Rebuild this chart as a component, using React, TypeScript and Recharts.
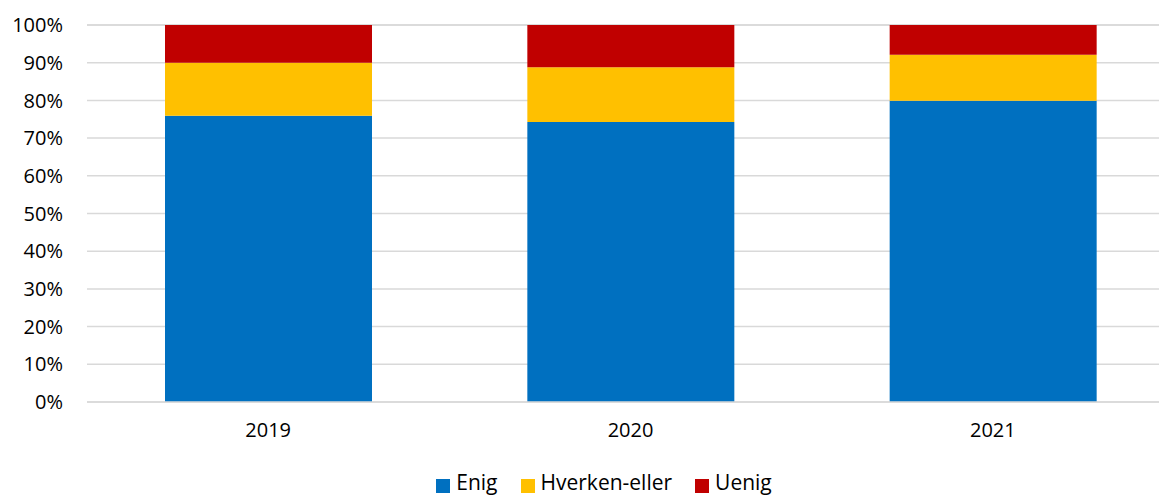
import React from 'react';
import { BarChart, Bar, XAxis, YAxis, CartesianGrid, Legend } from 'recharts';

const years = ['2019', '2020', '2021'];
const enig = [75.9, 74.3, 79.9];
const hverken = [14.1, 14.5, 12.2];
const uenig = [10.0, 11.2, 7.9];
const yTicks = [0, 10, 20, 30, 40, 50, 60, 70, 80, 90, 100];

const data = years.map((year, i) => ({
  year,
  Enig: enig[i],
  'Hverken-eller': hverken[i],
  Uenig: uenig[i],
}));

const font = '"Open Sans", sans-serif';

export default function App() {
  return (
    <div
      style={{
        position: 'fixed',
        left: 0,
        top: 0,
        width: 1159,
        height: 497,
        overflow: 'hidden',
        background: '#fff',
        fontFamily: font,
      }}
    >
      <BarChart
        width={1204}
        height={497}
        data={data}
        margin={{ top: 25, right: 30, left: 0, bottom: 1 }}
        barSize={207}
      >
        <CartesianGrid vertical={false} stroke="#d9d9d9" strokeWidth={1.5} />
        <XAxis
          dataKey="year"
          tickLine={false}
          tickSize={0}
          tickMargin={21}
          axisLine={{ stroke: '#d9d9d9', strokeWidth: 1.5 }}
          tick={{ fill: '#000', fontSize: 20, fontFamily: font }}
          height={66}
        />
        <YAxis
          domain={[0, 100]}
          ticks={yTicks}
          interval={0}
          tickFormatter={(v) => `${v}%`}
          axisLine={false}
          tickLine={false}
          tickSize={0}
          tickMargin={24}
          width={87}
          tick={{ fill: '#000', fontSize: 20, fontFamily: font }}
        />
        <Legend
          verticalAlign="bottom"
          iconType="square"
          iconSize={14}
          wrapperStyle={{ left: 22 }}
          formatter={(value, _entry, index) => (
            <span
              style={{
                color: '#000',
                fontSize: 21,
                fontFamily: font,
                paddingLeft: 2,
                paddingRight: index < 2 ? 13 : 0,
              }}
            >
              {value}
            </span>
          )}
        />
        <Bar dataKey="Enig" stackId="a" fill="#0070C0" isAnimationActive={false} />
        <Bar dataKey="Hverken-eller" stackId="a" fill="#FFC000" isAnimationActive={false} />
        <Bar dataKey="Uenig" stackId="a" fill="#C00000" isAnimationActive={false} />
      </BarChart>
    </div>
  );
}
